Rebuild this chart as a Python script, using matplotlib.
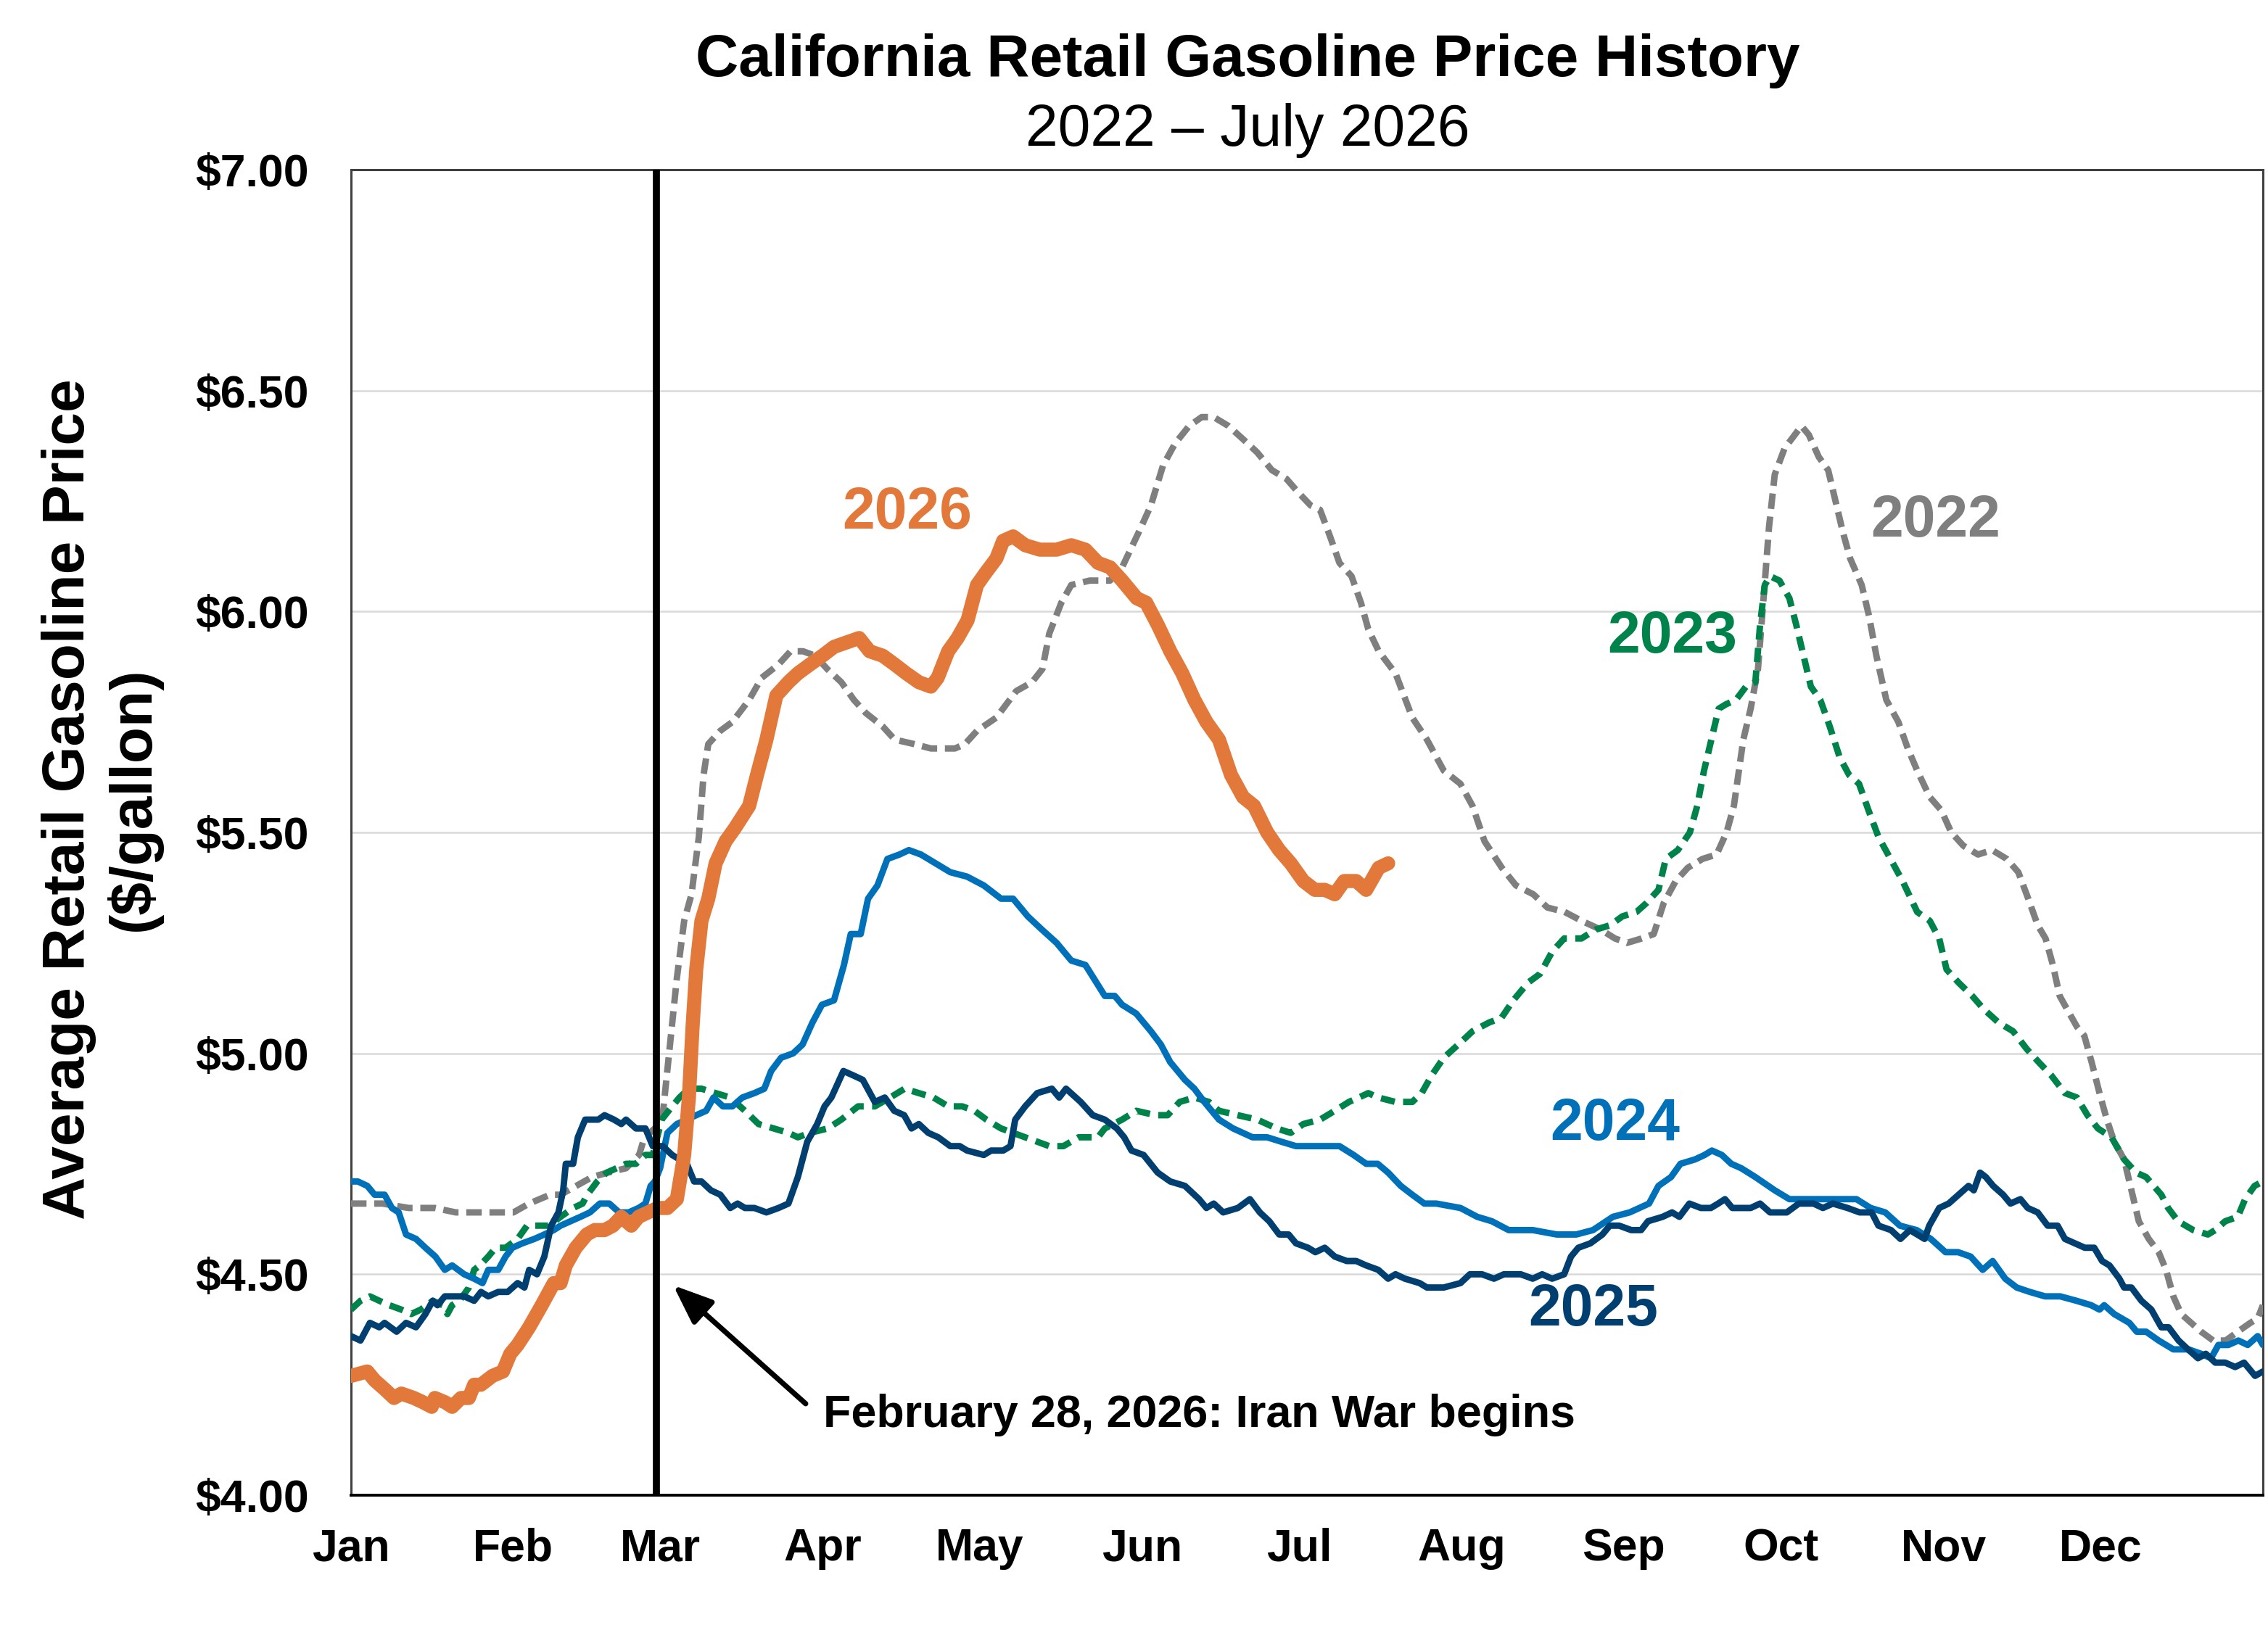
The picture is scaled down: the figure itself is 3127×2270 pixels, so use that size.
import numpy as np
import matplotlib
matplotlib.use("Agg")
import matplotlib.pyplot as plt
from matplotlib import font_manager as fm

# ---------------- data (day of year, 0 = Jan 1) ----------------
month_starts = [0, 31, 59, 90, 120, 151, 181, 212, 243, 273, 304, 334]
month_labels = ["Jan", "Feb", "Mar", "Apr", "May", "Jun", "Jul", "Aug", "Sep", "Oct", "Nov", "Dec"]
y_ticks = [4.0, 4.5, 5.0, 5.5, 6.0, 6.5, 7.0]
event_day = 58.3
event_text = "February 28, 2026: Iran War begins"

days_2022 = [0, 2, 6, 11, 16, 20, 25, 29, 31, 34, 38, 40, 43, 46, 49, 52.5, 55, 56, 58, 59.5, 60.8, 62.2, 63.6, 65, 66.4, 67.3, 68.2, 70.5, 72.8, 76, 78.4, 81.6, 83.9, 86.3, 88.6, 90.9, 93.6, 96, 98.3, 101.5, 103.8, 107.5, 110.7, 115.3, 117.2, 119.5, 123.2, 127, 130, 132, 133.3, 135.6, 137.5, 141, 144.9, 147.2, 150.4, 152.7, 155, 157.3, 160, 162.4, 164.7, 167.5, 170.3, 173, 175.8, 178.6, 180.8, 183.2, 185, 186.9, 188.7, 191, 192.8, 194.2, 196.2, 199.4, 202.6, 205.4, 208.6, 211.8, 214.1, 216.4, 219.7, 222.4, 225.7, 228.4, 231.7, 234.9, 238.6, 241.3, 243.6, 246.4, 248.7, 250.6, 252.9, 255.2, 258, 260.7, 262.6, 264, 265.8, 267.2, 268.6, 269.8, 270.7, 271.8, 273.7, 275, 276.9, 278.3, 280.2, 282, 283.4, 284.8, 286.2, 288.4, 289.8, 291.2, 293.1, 295.4, 297.2, 299, 301.4, 303.6, 305.5, 307.8, 310.6, 313.3, 316.1, 318.3, 320.2, 322, 323.5, 324.9, 326.2, 327.6, 329.5, 330.9, 332.3, 333.8, 335.2, 336.6, 338.5, 339.9, 341.3, 343.2, 345.1, 346.5, 347.9, 349.4, 351.3, 353.2, 355.5, 357.9, 360.2, 362.6, 364, 365]
price_2022 = [4.66, 4.66, 4.66, 4.65, 4.65, 4.64, 4.64, 4.64, 4.64, 4.66, 4.68, 4.68, 4.70, 4.72, 4.73, 4.74, 4.77, 4.81, 4.83, 4.86, 5.01, 5.17, 5.30, 5.36, 5.49, 5.63, 5.70, 5.73, 5.75, 5.80, 5.85, 5.88, 5.91, 5.91, 5.90, 5.87, 5.84, 5.80, 5.77, 5.74, 5.71, 5.70, 5.69, 5.69, 5.70, 5.73, 5.76, 5.82, 5.84, 5.87, 5.95, 6.02, 6.06, 6.07, 6.07, 6.10, 6.18, 6.24, 6.33, 6.38, 6.42, 6.44, 6.44, 6.42, 6.39, 6.36, 6.32, 6.30, 6.27, 6.24, 6.23, 6.17, 6.11, 6.08, 6.02, 5.96, 5.91, 5.86, 5.76, 5.71, 5.64, 5.61, 5.56, 5.48, 5.42, 5.38, 5.36, 5.33, 5.32, 5.30, 5.28, 5.26, 5.25, 5.26, 5.27, 5.34, 5.39, 5.42, 5.44, 5.45, 5.50, 5.56, 5.71, 5.78, 5.87, 6.05, 6.19, 6.31, 6.37, 6.39, 6.42, 6.40, 6.35, 6.32, 6.25, 6.18, 6.12, 6.06, 5.99, 5.90, 5.80, 5.75, 5.69, 5.64, 5.58, 5.55, 5.50, 5.47, 5.45, 5.46, 5.44, 5.41, 5.35, 5.29, 5.26, 5.20, 5.13, 5.10, 5.06, 5.04, 4.98, 4.91, 4.85, 4.80, 4.76, 4.69, 4.62, 4.58, 4.55, 4.51, 4.45, 4.41, 4.39, 4.37, 4.35, 4.35, 4.37, 4.39, 4.40, 4.43]

days_2023 = [0, 1.8, 3.6, 5.4, 7.3, 9.6, 11.5, 13.3, 15.6, 17.5, 18.4, 19.3, 20.7, 22.5, 23.5, 24.6, 26.2, 27.6, 29.5, 31.8, 33.6, 35.9, 37.8, 40, 42.4, 44.2, 45.1, 47, 48.8, 50.7, 52.5, 54.4, 56.2, 57.6, 59.3, 61.3, 62.7, 64.5, 66.9, 69.6, 72.4, 75.2, 77.8, 80.7, 83.5, 85.3, 87.6, 91, 93.6, 96.8, 100, 102.9, 105.7, 108.4, 111.2, 114, 116.7, 119, 121.3, 124.1, 128.7, 133.3, 136, 138.9, 142.6, 143.9, 147.2, 149.9, 153.6, 155.9, 158.2, 161, 163.8, 165.7, 169.3, 173, 176.7, 179.4, 181.8, 185, 187.8, 190.5, 192.4, 194.2, 196.1, 199.4, 202.6, 204.4, 206.3, 208.6, 211.4, 214.1, 217.3, 219.6, 221.9, 224.7, 227, 229.3, 231.6, 234.9, 237.6, 240.4, 242.7, 245.4, 247.3, 249.6, 251, 253.3, 255.6, 257, 258.3, 259.7, 261.1, 262.5, 264.4, 266.3, 268.1, 269, 269.9, 270.9, 272.7, 274.6, 275.9, 277.3, 278.7, 280.5, 282.3, 284.2, 286, 287.9, 289.7, 291.6, 293.9, 296.2, 299, 301.4, 303.2, 304.6, 306.9, 309.5, 311.7, 314.5, 317.3, 319.9, 322.2, 324.6, 327.2, 329.5, 331.5, 333.5, 336.1, 338.5, 340.8, 342.7, 345.6, 346.9, 348.8, 351.7, 354.5, 355.9, 357.8, 360.2, 361.6, 363.4, 365]
price_2023 = [4.42, 4.44, 4.45, 4.44, 4.43, 4.42, 4.41, 4.42, 4.44, 4.43, 4.41, 4.43, 4.44, 4.47, 4.51, 4.52, 4.54, 4.56, 4.56, 4.58, 4.61, 4.61, 4.61, 4.63, 4.65, 4.66, 4.68, 4.71, 4.73, 4.74, 4.75, 4.75, 4.77, 4.77, 4.85, 4.88, 4.90, 4.92, 4.92, 4.91, 4.90, 4.87, 4.84, 4.83, 4.82, 4.81, 4.82, 4.83, 4.85, 4.88, 4.88, 4.90, 4.92, 4.91, 4.90, 4.88, 4.88, 4.87, 4.85, 4.83, 4.81, 4.79, 4.79, 4.81, 4.81, 4.83, 4.85, 4.87, 4.86, 4.86, 4.89, 4.90, 4.89, 4.87, 4.86, 4.85, 4.83, 4.82, 4.84, 4.85, 4.87, 4.89, 4.90, 4.91, 4.90, 4.89, 4.89, 4.91, 4.95, 4.99, 5.02, 5.05, 5.07, 5.08, 5.12, 5.16, 5.18, 5.23, 5.26, 5.26, 5.28, 5.29, 5.31, 5.32, 5.34, 5.37, 5.44, 5.46, 5.50, 5.56, 5.64, 5.71, 5.78, 5.79, 5.80, 5.83, 5.84, 5.97, 6.06, 6.08, 6.07, 6.03, 5.97, 5.90, 5.83, 5.80, 5.74, 5.67, 5.63, 5.61, 5.55, 5.49, 5.44, 5.39, 5.32, 5.30, 5.26, 5.19, 5.16, 5.13, 5.10, 5.07, 5.05, 5.01, 4.98, 4.95, 4.91, 4.90, 4.86, 4.83, 4.81, 4.76, 4.73, 4.72, 4.68, 4.65, 4.62, 4.60, 4.59, 4.60, 4.62, 4.63, 4.67, 4.70, 4.71]

days_2024 = [0, 1.3, 3.1, 4.5, 6.4, 7.8, 9.1, 10.5, 12.4, 14.2, 16.1, 17.9, 19.3, 21.6, 23.5, 25.1, 26.2, 28.1, 29.5, 30.8, 32.7, 35, 36.9, 38.7, 40, 41.9, 43.8, 45.6, 47.5, 49.3, 51.2, 53, 54.9, 56.2, 57.2, 58, 59, 60.4, 62.2, 64.1, 65.9, 67.8, 69.2, 71, 72.8, 74.7, 77, 78.9, 80.2, 82.1, 84.4, 86.2, 88.1, 89.9, 92.2, 94.1, 95.4, 97.3, 98.7, 100.5, 102.4, 104.7, 106.5, 108.8, 111.6, 114.4, 117.6, 120.8, 124.1, 126.4, 129.2, 131.9, 134.7, 137.5, 140.2, 143.9, 145.8, 147.2, 149.9, 152.7, 154.6, 156.4, 159.2, 161, 162.9, 165.7, 168.4, 172.1, 174.9, 177.6, 180.4, 184.1, 188.7, 191.4, 193.8, 196, 198, 200.4, 202.6, 204.9, 207.2, 211.8, 215, 217.8, 221, 225.6, 230.2, 233.9, 237.1, 240.9, 244.1, 247.8, 249.6, 252, 253.8, 256.6, 258.4, 259.8, 261.7, 263.5, 265.4, 268.1, 271.8, 274.6, 277.8, 281, 284.7, 287.4, 290.1, 292.9, 295.7, 298.9, 301.6, 304.4, 306.8, 309.2, 311.5, 313.4, 315.8, 318, 320.5, 323.4, 326.3, 329.4, 332.2, 333.8, 334.7, 336.6, 339.5, 340.9, 342.7, 345.1, 347.9, 350.8, 353.2, 355.1, 356.5, 358.4, 360.3, 362.1, 364, 365]
price_2024 = [4.71, 4.71, 4.70, 4.68, 4.68, 4.65, 4.64, 4.59, 4.58, 4.56, 4.54, 4.51, 4.52, 4.50, 4.49, 4.48, 4.51, 4.51, 4.54, 4.56, 4.57, 4.58, 4.59, 4.60, 4.61, 4.62, 4.63, 4.64, 4.66, 4.66, 4.64, 4.64, 4.65, 4.66, 4.70, 4.71, 4.74, 4.82, 4.84, 4.85, 4.86, 4.87, 4.90, 4.88, 4.88, 4.90, 4.91, 4.92, 4.96, 4.99, 5.00, 5.02, 5.07, 5.11, 5.12, 5.20, 5.27, 5.27, 5.35, 5.38, 5.44, 5.45, 5.46, 5.45, 5.43, 5.41, 5.40, 5.38, 5.35, 5.35, 5.31, 5.28, 5.25, 5.21, 5.20, 5.13, 5.13, 5.11, 5.09, 5.05, 5.02, 4.98, 4.94, 4.92, 4.89, 4.85, 4.83, 4.81, 4.81, 4.80, 4.79, 4.79, 4.79, 4.77, 4.75, 4.75, 4.73, 4.70, 4.68, 4.66, 4.66, 4.65, 4.63, 4.62, 4.60, 4.60, 4.59, 4.59, 4.60, 4.63, 4.64, 4.66, 4.70, 4.72, 4.75, 4.76, 4.77, 4.78, 4.77, 4.75, 4.74, 4.72, 4.69, 4.67, 4.67, 4.67, 4.67, 4.67, 4.65, 4.64, 4.61, 4.60, 4.58, 4.55, 4.55, 4.54, 4.51, 4.53, 4.49, 4.47, 4.46, 4.45, 4.45, 4.44, 4.43, 4.42, 4.43, 4.41, 4.39, 4.37, 4.37, 4.35, 4.33, 4.33, 4.32, 4.31, 4.34, 4.34, 4.35, 4.34, 4.36, 4.34]

days_2025 = [0, 1.8, 3.6, 5.4, 6.4, 8.7, 10.5, 12.4, 14.2, 15.6, 16.5, 17.9, 19.8, 21.6, 23.5, 24.8, 26.2, 28.1, 29.9, 31.8, 33.1, 34, 35.5, 36.9, 38.2, 39.6, 40.5, 41, 42.4, 43.3, 44.7, 46.1, 47.2, 48.4, 50.2, 51.6, 52.5, 54.4, 56.2, 57.6, 59.5, 61.3, 64.1, 65.5, 66.9, 68.7, 70.5, 72.4, 73.8, 75.2, 77, 79.3, 81.6, 83.5, 85.3, 87.1, 89, 90.4, 91.7, 94, 95.9, 97.7, 100, 101.9, 103.7, 105.6, 107, 108.4, 110.2, 112.1, 114.4, 116.2, 117.6, 120.8, 122.2, 124.5, 125.9, 126.8, 128.7, 131, 133.8, 135.2, 136.5, 139.3, 141.6, 143.9, 146.2, 147.6, 149, 151.3, 154, 156.4, 159.2, 161.9, 163.3, 164.7, 166.5, 169.3, 171.6, 173.5, 175.3, 177.2, 179, 180.4, 182.7, 184.1, 185.9, 187.8, 190.1, 191.9, 193.8, 196.1, 198, 199.4, 201.2, 204, 205.4, 208.6, 211.8, 213.6, 215.9, 218.2, 220.1, 223.3, 225.6, 227.4, 229.3, 231.6, 232.9, 234.3, 236.6, 238.9, 240.3, 242.1, 244.4, 246.3, 247.6, 250.4, 252.2, 253.6, 255.5, 257.7, 259.6, 261, 262.3, 263.7, 265.1, 267.2, 269, 270.9, 274.1, 276.4, 279.2, 281, 282.9, 285.7, 288, 290.3, 291.6, 294, 295.8, 297.6, 300.4, 301.3, 303.2, 305, 306.9, 308.8, 309.8, 311, 312.1, 313.5, 315.4, 316.8, 318.7, 320.1, 322, 323.9, 325.8, 327.2, 329.1, 331, 332.8, 334.3, 335.7, 337.6, 338.5, 339.9, 341.8, 343.7, 345.6, 347, 348.9, 350.7, 352.6, 354.1, 355.9, 357.8, 359.7, 361.4, 363.5, 365]
price_2025 = [4.36, 4.35, 4.39, 4.38, 4.39, 4.37, 4.39, 4.38, 4.41, 4.44, 4.43, 4.45, 4.45, 4.45, 4.44, 4.46, 4.45, 4.46, 4.46, 4.48, 4.47, 4.51, 4.50, 4.54, 4.61, 4.64, 4.69, 4.75, 4.75, 4.81, 4.85, 4.85, 4.85, 4.86, 4.85, 4.84, 4.85, 4.83, 4.83, 4.79, 4.79, 4.77, 4.75, 4.71, 4.71, 4.69, 4.68, 4.65, 4.66, 4.65, 4.65, 4.64, 4.65, 4.66, 4.72, 4.80, 4.84, 4.88, 4.90, 4.96, 4.95, 4.94, 4.89, 4.90, 4.87, 4.86, 4.83, 4.84, 4.82, 4.81, 4.79, 4.79, 4.78, 4.77, 4.78, 4.78, 4.79, 4.85, 4.88, 4.91, 4.92, 4.90, 4.92, 4.89, 4.86, 4.85, 4.83, 4.81, 4.78, 4.77, 4.73, 4.71, 4.70, 4.67, 4.65, 4.66, 4.64, 4.65, 4.67, 4.64, 4.62, 4.59, 4.59, 4.57, 4.56, 4.55, 4.56, 4.54, 4.53, 4.53, 4.52, 4.51, 4.49, 4.50, 4.49, 4.48, 4.47, 4.47, 4.48, 4.50, 4.50, 4.49, 4.50, 4.50, 4.49, 4.50, 4.49, 4.50, 4.54, 4.56, 4.57, 4.59, 4.61, 4.61, 4.60, 4.60, 4.62, 4.63, 4.64, 4.63, 4.66, 4.65, 4.65, 4.66, 4.67, 4.65, 4.65, 4.65, 4.66, 4.64, 4.64, 4.66, 4.66, 4.65, 4.66, 4.65, 4.64, 4.64, 4.61, 4.60, 4.58, 4.60, 4.58, 4.61, 4.65, 4.66, 4.68, 4.70, 4.69, 4.73, 4.72, 4.70, 4.68, 4.66, 4.67, 4.65, 4.64, 4.61, 4.61, 4.58, 4.57, 4.56, 4.56, 4.53, 4.52, 4.49, 4.47, 4.47, 4.44, 4.42, 4.38, 4.38, 4.35, 4.33, 4.31, 4.32, 4.30, 4.30, 4.29, 4.30, 4.27, 4.28]

days_2026 = [0, 3.1, 4.5, 6.4, 8.2, 9.6, 12, 13.8, 15.4, 16, 18, 19.3, 21, 22.5, 23.5, 24.8, 27, 29, 30.4, 31.8, 34, 36.4, 38.7, 40, 41, 42.9, 45, 46.5, 48.4, 50, 51.6, 53.5, 54.9, 56.7, 58.5, 60.4, 62.2, 63.6, 64.5, 65.2, 65.9, 66.9, 68.2, 69.6, 71.5, 73.3, 76, 77.5, 79.3, 81.2, 83.5, 85.3, 87.6, 90, 92.2, 94.6, 97, 99, 101.5, 103.8, 106, 108.4, 110.7, 112, 114, 115.8, 117.7, 119.5, 121.3, 123.2, 124.5, 126.4, 128.7, 131.5, 134.7, 137.5, 140.2, 142.6, 144.9, 147.2, 150, 151.8, 154, 156.4, 158.7, 161, 163.3, 165.7, 168, 170.3, 172.4, 174.9, 177.2, 179.4, 181.8, 184, 185.9, 187.8, 189.6, 191.9, 193.8, 196.2, 198]
price_2026 = [4.27, 4.28, 4.26, 4.24, 4.22, 4.23, 4.22, 4.21, 4.20, 4.22, 4.21, 4.20, 4.22, 4.22, 4.25, 4.25, 4.27, 4.28, 4.32, 4.34, 4.38, 4.43, 4.48, 4.48, 4.52, 4.56, 4.59, 4.60, 4.60, 4.61, 4.63, 4.61, 4.63, 4.64, 4.65, 4.65, 4.67, 4.77, 4.90, 5.06, 5.19, 5.30, 5.35, 5.43, 5.48, 5.51, 5.56, 5.63, 5.71, 5.81, 5.84, 5.86, 5.88, 5.90, 5.92, 5.93, 5.94, 5.91, 5.90, 5.88, 5.86, 5.84, 5.83, 5.85, 5.91, 5.94, 5.98, 6.06, 6.09, 6.12, 6.16, 6.17, 6.15, 6.14, 6.14, 6.15, 6.14, 6.11, 6.10, 6.07, 6.03, 6.02, 5.97, 5.91, 5.86, 5.80, 5.75, 5.71, 5.63, 5.58, 5.56, 5.50, 5.46, 5.43, 5.39, 5.37, 5.37, 5.36, 5.39, 5.39, 5.37, 5.42, 5.43]

# ---------------- figure ----------------
W, H, DPI = 3127, 2270, 200
names = {f.name for f in fm.fontManager.ttflist}
MAIN = "Liberation Sans" if "Liberation Sans" in names else "DejaVu Sans"
NARROW = "Liberation Sans Narrow" if "Liberation Sans Narrow" in names else MAIN
plt.rcParams["font.family"] = [MAIN, "DejaVu Sans"]

fig = plt.figure(figsize=(W / DPI, H / DPI), dpi=DPI)
fig.patch.set_facecolor("white")
ax = fig.add_axes([484 / W, 1 - 2062 / H, (3120 - 484) / W, (2062 - 234) / H])

C22, C23, C24, C25, C26 = "#7F7F7F", "#00834A", "#0070B8", "#003F70", "#E27839"
thin = 3.2
ax.plot(days_2022, price_2022, color=C22, lw=thin, dashes=(2.4, 1.2), dash_capstyle="butt", zorder=3)
ax.plot(days_2023, price_2023, color=C23, lw=thin, dashes=(2.2, 1.3), dash_capstyle="butt", zorder=4)
ax.plot(days_2024, price_2024, color=C24, lw=thin, solid_joinstyle="round", solid_capstyle="round", zorder=5)
ax.plot(days_2025, price_2025, color=C25, lw=thin, solid_joinstyle="round", solid_capstyle="round", zorder=6)
ax.plot(days_2026, price_2026, color=C26, lw=7, solid_joinstyle="round", solid_capstyle="round", zorder=7)

ax.axvline(event_day, color="black", lw=3.5, zorder=8)

ax.set_xlim(0, 365)
ax.set_ylim(4, 7)
ax.set_xticks(month_starts)
ax.set_xticklabels(month_labels, fontsize=22.5, fontweight="bold")
ax.set_yticks(y_ticks)
ax.set_yticklabels([f"${v:.2f}" for v in y_ticks], fontsize=22.5, fontweight="bold")
ax.tick_params(axis="x", length=0, pad=16)
ax.tick_params(axis="y", length=0, pad=21)
ax.yaxis.grid(True, color="#D9D9D9", lw=0.9)
ax.set_axisbelow(True)
for side in ["left", "top", "right"]:
    ax.spines[side].set_color("#404040")
    ax.spines[side].set_linewidth(1.1)
ax.spines["bottom"].set_color("black")
ax.spines["bottom"].set_linewidth(1.4)

# series labels
lab_kw = dict(fontsize=29, fontweight="bold", ha="center", va="center", zorder=9)
ax.text(106.1, 6.222, "2026", color=C26, **lab_kw)
ax.text(302.5, 6.204, "2022", color=C22, **lab_kw)
ax.text(252.2, 5.942, "2023", color=C23, **lab_kw)
ax.text(241.3, 4.839, "2024", color=C24, **lab_kw)
ax.text(237.1, 4.419, "2025", color=C25, **lab_kw)

# annotation
ax.annotate("", xy=(61.5, 4.475), xytext=(86.8, 4.207),
            arrowprops=dict(arrowstyle="-|>,head_length=0.55,head_width=0.22", lw=2.6,
                            color="black", mutation_scale=30, shrinkA=0, shrinkB=0), zorder=9)
ev = ax.text(90.2, 4.182, event_text, ha="left", va="center", fontsize=24,
             fontweight="bold", family=[NARROW, "DejaVu Sans"], color="black", zorder=9)
fig.canvas.draw()
w = ev.get_window_extent(fig.canvas.get_renderer()).width
ev.set_fontsize(24 * 1035.0 / w)

# titles
fig.text(1720 / W, 1 - 84 / H, "California Retail Gasoline Price History", ha="center", va="center",
         fontsize=29.5, fontweight="bold")
fig.text(1720 / W, 1 - 180 / H, "2022 \u2013 July 2026", ha="center", va="center", fontsize=29)
fig.text(140 / W, 1 - 1102 / H, "Average Retail Gasoline Price\n($/gallon)", rotation=90,
         ha="center", va="center", fontsize=29.5, fontweight="bold", linespacing=1.2,
         multialignment="center")

fig.savefig("out.png", dpi=DPI, facecolor="white")
